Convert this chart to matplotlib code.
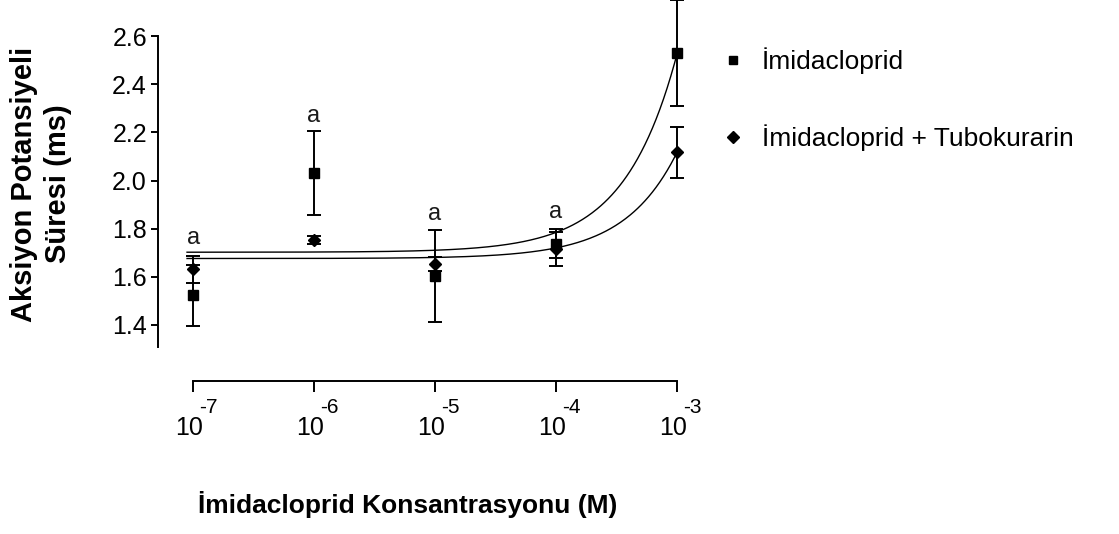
import numpy as np
import matplotlib
matplotlib.use("Agg")
import matplotlib.pyplot as plt
from matplotlib.lines import Line2D

plt.rcParams["font.family"] = ["Liberation Sans", "DejaVu Sans"]

# ── veriler ─────────────────────────────────────────────
konsantrasyon = [1e-7, 1e-6, 1e-5, 1e-4, 1e-3]
us_etiket = ["-7", "-6", "-5", "-4", "-3"]

imid_ort = [1.523, 2.031, 1.603, 1.737, 2.53]
imid_sem = [0.127, 0.175, 0.19, 0.06, 0.22]

tubo_ort = [1.631, 1.753, 1.653, 1.715, 2.117]
tubo_sem = [0.055, 0.015, 0.03, 0.07, 0.107]

# "a" işaretleri (anlamlılık), yer: hangi konsantrasyon
harf_konum = [1e-7, 1e-6, 1e-5, 1e-4]
harf_y = [1.76, 2.27, 1.86, 1.87]

fig = plt.figure(figsize=(11.19, 5.34), dpi=100)
ax = fig.add_axes([158 / 1119, (534 - 381) / 534, (683 - 158) / 1119, 381 / 534])

ax.set_xscale("log")
ax.set_xlim(10 ** -7.29, 10 ** -2.95)
ax.set_ylim(1.167, 2.75)

# doğrusal uyum (y = a + b*C) — veriden
C = np.array(konsantrasyon)
xx = np.logspace(-7.05, -3, 400)
for ort in (imid_ort, tubo_ort):
    b, a = np.polyfit(C, np.array(ort), 1)
    ax.plot(xx, a + b * xx, color="black", lw=1.0, clip_on=False)

ax.errorbar(konsantrasyon, imid_ort, yerr=imid_sem, fmt="s", ms=7, color="black",
            ecolor="black", elinewidth=1.4, capsize=5, capthick=1.4, clip_on=False)
ax.errorbar(konsantrasyon, tubo_ort, yerr=tubo_sem, fmt="D", ms=6.5, color="black",
            ecolor="black", elinewidth=1.4, capsize=5, capthick=1.4, clip_on=False)

for xk, yk in zip(harf_konum, harf_y):
    ax.text(xk, yk, "a", ha="center", va="center", fontsize=17, color="#1a1a1a")

for s in ("top", "right"):
    ax.spines[s].set_visible(False)
ax.spines["left"].set_bounds(1.31, 2.6)
ax.spines["bottom"].set_bounds(1e-7, 1e-3)
ax.spines["left"].set_linewidth(1.4)
ax.spines["bottom"].set_linewidth(1.4)

ax.set_yticks([1.4, 1.6, 1.8, 2.0, 2.2, 2.4, 2.6])
ax.set_yticklabels(["1.4", "1.6", "1.8", "2.0", "2.2", "2.4", "2.6"])
ax.set_xticks(konsantrasyon)
ax.set_xticklabels([])
ax.minorticks_off()
ax.tick_params(axis="y", length=5, width=1.4, labelsize=18, pad=3, colors="black")
ax.tick_params(axis="x", length=8, width=1.4, colors="black")

# 10 üzeri etiketler (üs yukarıda, ayrı)
for xk, us in zip(konsantrasyon, us_etiket):
    ax.annotate("10", xy=(xk, 0), xycoords=("data", "axes fraction"),
                xytext=(10, -54), textcoords="offset pixels", ha="right",
                va="baseline", fontsize=18, annotation_clip=False)
    ax.annotate(us, xy=(xk, 0), xycoords=("data", "axes fraction"),
                xytext=(6, -32), textcoords="offset pixels", ha="left",
                va="baseline", fontsize=15, annotation_clip=False)

fig.text(41 / 1119, 1 - 184 / 534, "Aksiyon Potansiyeli\nSüresi (ms)", rotation=90,
         ha="center", va="center", fontsize=21, fontweight="bold", linespacing=1.3)
fig.text(408 / 1119, 1 - 505 / 534, "İmidacloprid Konsantrasyonu (M)", ha="center",
         va="center", fontsize=19, fontweight="bold")

handles = [Line2D([], [], marker="s", ls="none", color="black", ms=6),
           Line2D([], [], marker="D", ls="none", color="black", ms=6)]
fig.legend(handles, ["İmidacloprid", "İmidacloprid + Tubokurarin"], loc="upper left",
           bbox_to_anchor=(696 / 1119, 1 - 24 / 534), frameon=False, fontsize=19,
           labelspacing=1.9, handletextpad=0.6, handlelength=1.0)

fig.savefig("out.png", dpi=100)
